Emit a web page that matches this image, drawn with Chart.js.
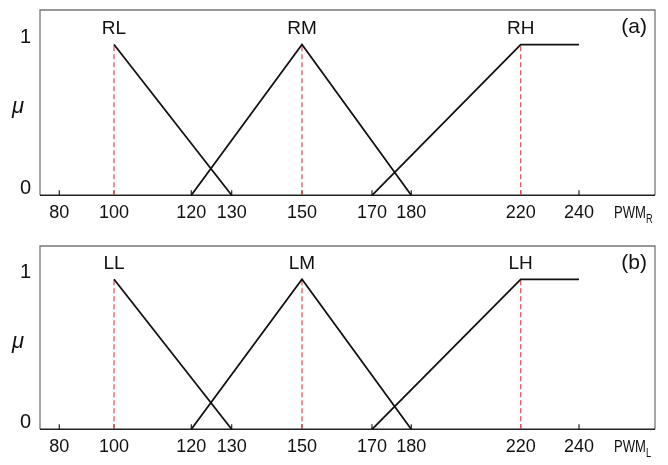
<!DOCTYPE html>
<html><head><meta charset="utf-8">
<script src="https://cdn.jsdelivr.net/npm/chart.js@4.4.0/dist/chart.umd.min.js"></script>
<style>
html,body{margin:0;padding:0;background:#fff;}
#wrapA{position:absolute;left:0;top:0;width:668px;height:232px;}
#wrapB{position:absolute;left:0;top:232px;width:668px;height:233px;}
</style></head><body>
<div id="wrapA"><canvas id="cA"></canvas></div>
<div id="wrapB"><canvas id="cB"></canvas></div>
<script>
// ---------- data ----------
const xTickValues = [80, 100, 120, 130, 150, 170, 180, 220, 240];
const yTickValues = [0, 1];
const namesA = ['RL', 'RM', 'RH'];
const namesB = ['LL', 'LM', 'LH'];
const RL_x = [100, 130],      RL_mu = [1, 0];
const RM_x = [120, 150, 180], RM_mu = [0, 1, 0];
const RH_x = [170, 220, 240], RH_mu = [0, 1, 1];
const LL_x = [100, 130],      LL_mu = [1, 0];
const LM_x = [120, 150, 180], LM_mu = [0, 1, 0];
const LH_x = [170, 220, 240], LH_mu = [0, 1, 1];
const axisNameA = ['PWM', 'R'];
const axisNameB = ['PWM', 'L'];
const yAxisName = 'μ';
const tagA = '(a)', tagB = '(b)';

// ---------- axis spacing of the hand-drawn original (fraction of plot width per tick) ----------
const warpFracs = [0.0314, 0.1203, 0.2460, 0.3117, 0.4260, 0.5398, 0.6037, 0.7816, 0.8764];

function fracAt(v) {
  const V = xTickValues, F = warpFracs, n = V.length;
  let i = 0;
  if (v >= V[n - 1]) i = n - 2;
  else if (v > V[0]) { while (i < n - 2 && v > V[i + 1]) i++; }
  return F[i] + (v - V[i]) * (F[i + 1] - F[i]) / (V[i + 1] - V[i]);
}
function valAt(f) {
  const V = xTickValues, F = warpFracs, n = V.length;
  let i = 0;
  if (f >= F[n - 1]) i = n - 2;
  else if (f > F[0]) { while (i < n - 2 && f > F[i + 1]) i++; }
  return V[i] + (f - F[i]) * (V[i + 1] - V[i]) / (F[i + 1] - F[i]);
}

class WarpScale extends Chart.LinearScale {
  determineDataLimits() { this.min = valAt(0); this.max = valAt(1); }
  buildTicks() { return xTickValues.map(v => ({ value: v })); }
  getPixelForValue(v) { return this.getPixelForDecimal(fracAt(v)); }
  getValueForPixel(p) { return valAt(this.getDecimalForPixel(p)); }
}
WarpScale.id = 'warp';
WarpScale.defaults = {};
Chart.register(WarpScale);

Chart.defaults.font.family = 'Liberation Sans';
Chart.defaults.color = '#111';

const decorPlugin = {
  id: 'decor',
  beforeDatasetsDraw(chart) {
    const a = chart.chartArea, ctx = chart.ctx;
    ctx.save();
    ctx.strokeStyle = '#777';
    ctx.lineWidth = 1.3;
    ctx.beginPath();
    ctx.moveTo(a.left, a.bottom); ctx.lineTo(a.left, a.top);
    ctx.lineTo(a.right, a.top); ctx.lineTo(a.right, a.bottom);
    ctx.stroke();
    ctx.strokeStyle = '#222';
    ctx.lineWidth = 1.5;
    ctx.beginPath();
    ctx.moveTo(a.left, a.bottom); ctx.lineTo(a.right, a.bottom);
    ctx.stroke();
    // inward tick marks
    const xs = chart.scales.x;
    ctx.lineWidth = 1.2;
    xs.ticks.forEach((t, i) => {
      const px = xs.getPixelForTick(i);
      ctx.beginPath(); ctx.moveTo(px, a.bottom); ctx.lineTo(px, a.bottom - 5); ctx.stroke();
    });
    ctx.restore();
  },
  afterDraw(chart) {
    const o = chart.options.plugins.decor;
    const a = chart.chartArea, ctx = chart.ctx;
    const xs = chart.scales.x, ys = chart.scales.y;
    ctx.save();
    ctx.fillStyle = '#111';
    ctx.textBaseline = 'middle';
    ctx.textAlign = 'center';
    ctx.font = '19px Liberation Sans';
    o.names.forEach((nm, i) => {
      ctx.fillText(nm, xs.getPixelForValue(o.peaks[i]), ys.getPixelForValue(1) - 16);
    });
    ctx.textAlign = 'right';
    ctx.font = '21px Liberation Sans';
    ctx.fillText(o.tag, a.right - 8, a.top + 17);
    // axis name with subscript (condensed like the original)
    ctx.save();
    ctx.textAlign = 'left';
    const x0 = a.right - 41, y0 = a.bottom + 18;
    ctx.translate(x0, y0);
    ctx.scale(0.77, 1);
    ctx.font = '17px Liberation Sans';
    ctx.fillText(o.axisName[0], 0, 0);
    const w = ctx.measureText(o.axisName[0]).width;
    ctx.font = '12px Liberation Sans';
    ctx.fillText(o.axisName[1], w, 6);
    ctx.restore();
    // mu
    ctx.textAlign = 'center';
    ctx.font = 'italic 22px Liberation Sans';
    ctx.fillText(yAxisName, 18, (a.top + a.bottom) / 2 + 4);
    ctx.restore();
  }
};

function makeChart(id, sets, names, axisName, tag, padTop, xHeight, yMax) {
  const datasets = [];
  const peaks = [];
  sets.forEach(s => {
    datasets.push({
      data: s[0].map((x, i) => ({ x: x, y: s[1][i] })),
      borderColor: '#111', borderWidth: 1.8, pointRadius: 0, fill: false, tension: 0
    });
  });
  sets.forEach(s => {
    const p = s[0][s[1].indexOf(1)];
    peaks.push(p);
    datasets.push({
      data: [{ x: p, y: 0 }, { x: p, y: 1 }],
      borderColor: '#e05a5a', borderWidth: 1.3, borderDash: [5, 3], pointRadius: 0, fill: false
    });
  });
  return new Chart(document.getElementById(id), {
    type: 'line',
    data: { datasets },
    plugins: [decorPlugin],
    options: {
      responsive: true, maintainAspectRatio: false, animation: false, events: [],
      layout: { padding: { top: padTop, right: 13, left: 0, bottom: 0 } },
      plugins: {
        legend: { display: false }, tooltip: { enabled: false },
        decor: { names, peaks, axisName, tag }
      },
      scales: {
        x: {
          type: 'warp',
          grid: { display: false, drawTicks: false },
          border: { display: false },
          ticks: { autoSkip: false, maxRotation: 0, padding: 7, font: { size: 18 }, color: '#111',
                   callback: v => String(v) },
          afterFit: s => { s.height = xHeight; s.paddingLeft = 0; s.paddingRight = 0; }
        },
        y: {
          type: 'linear', min: 0, max: yMax,
          grid: { display: false, drawTicks: false },
          border: { display: false },
          afterBuildTicks: s => { s.ticks = yTickValues.map(v => ({ value: v })); },
          ticks: { padding: 9, labelOffset: -7, font: { size: 20 }, color: '#111', callback: v => String(v) },
          afterFit: s => { s.width = 40; s.paddingTop = 0; s.paddingBottom = 0; }
        }
      }
    }
  });
}

makeChart('cA', [[RL_x, RL_mu], [RM_x, RM_mu], [RH_x, RH_mu]], namesA, axisNameA, tagA, 10, 36.7, 1.229);
makeChart('cB', [[LL_x, LL_mu], [LM_x, LM_mu], [LH_x, LH_mu]], namesB, axisNameB, tagB, 14, 35.7, 1.222);
</script>
</body></html>
